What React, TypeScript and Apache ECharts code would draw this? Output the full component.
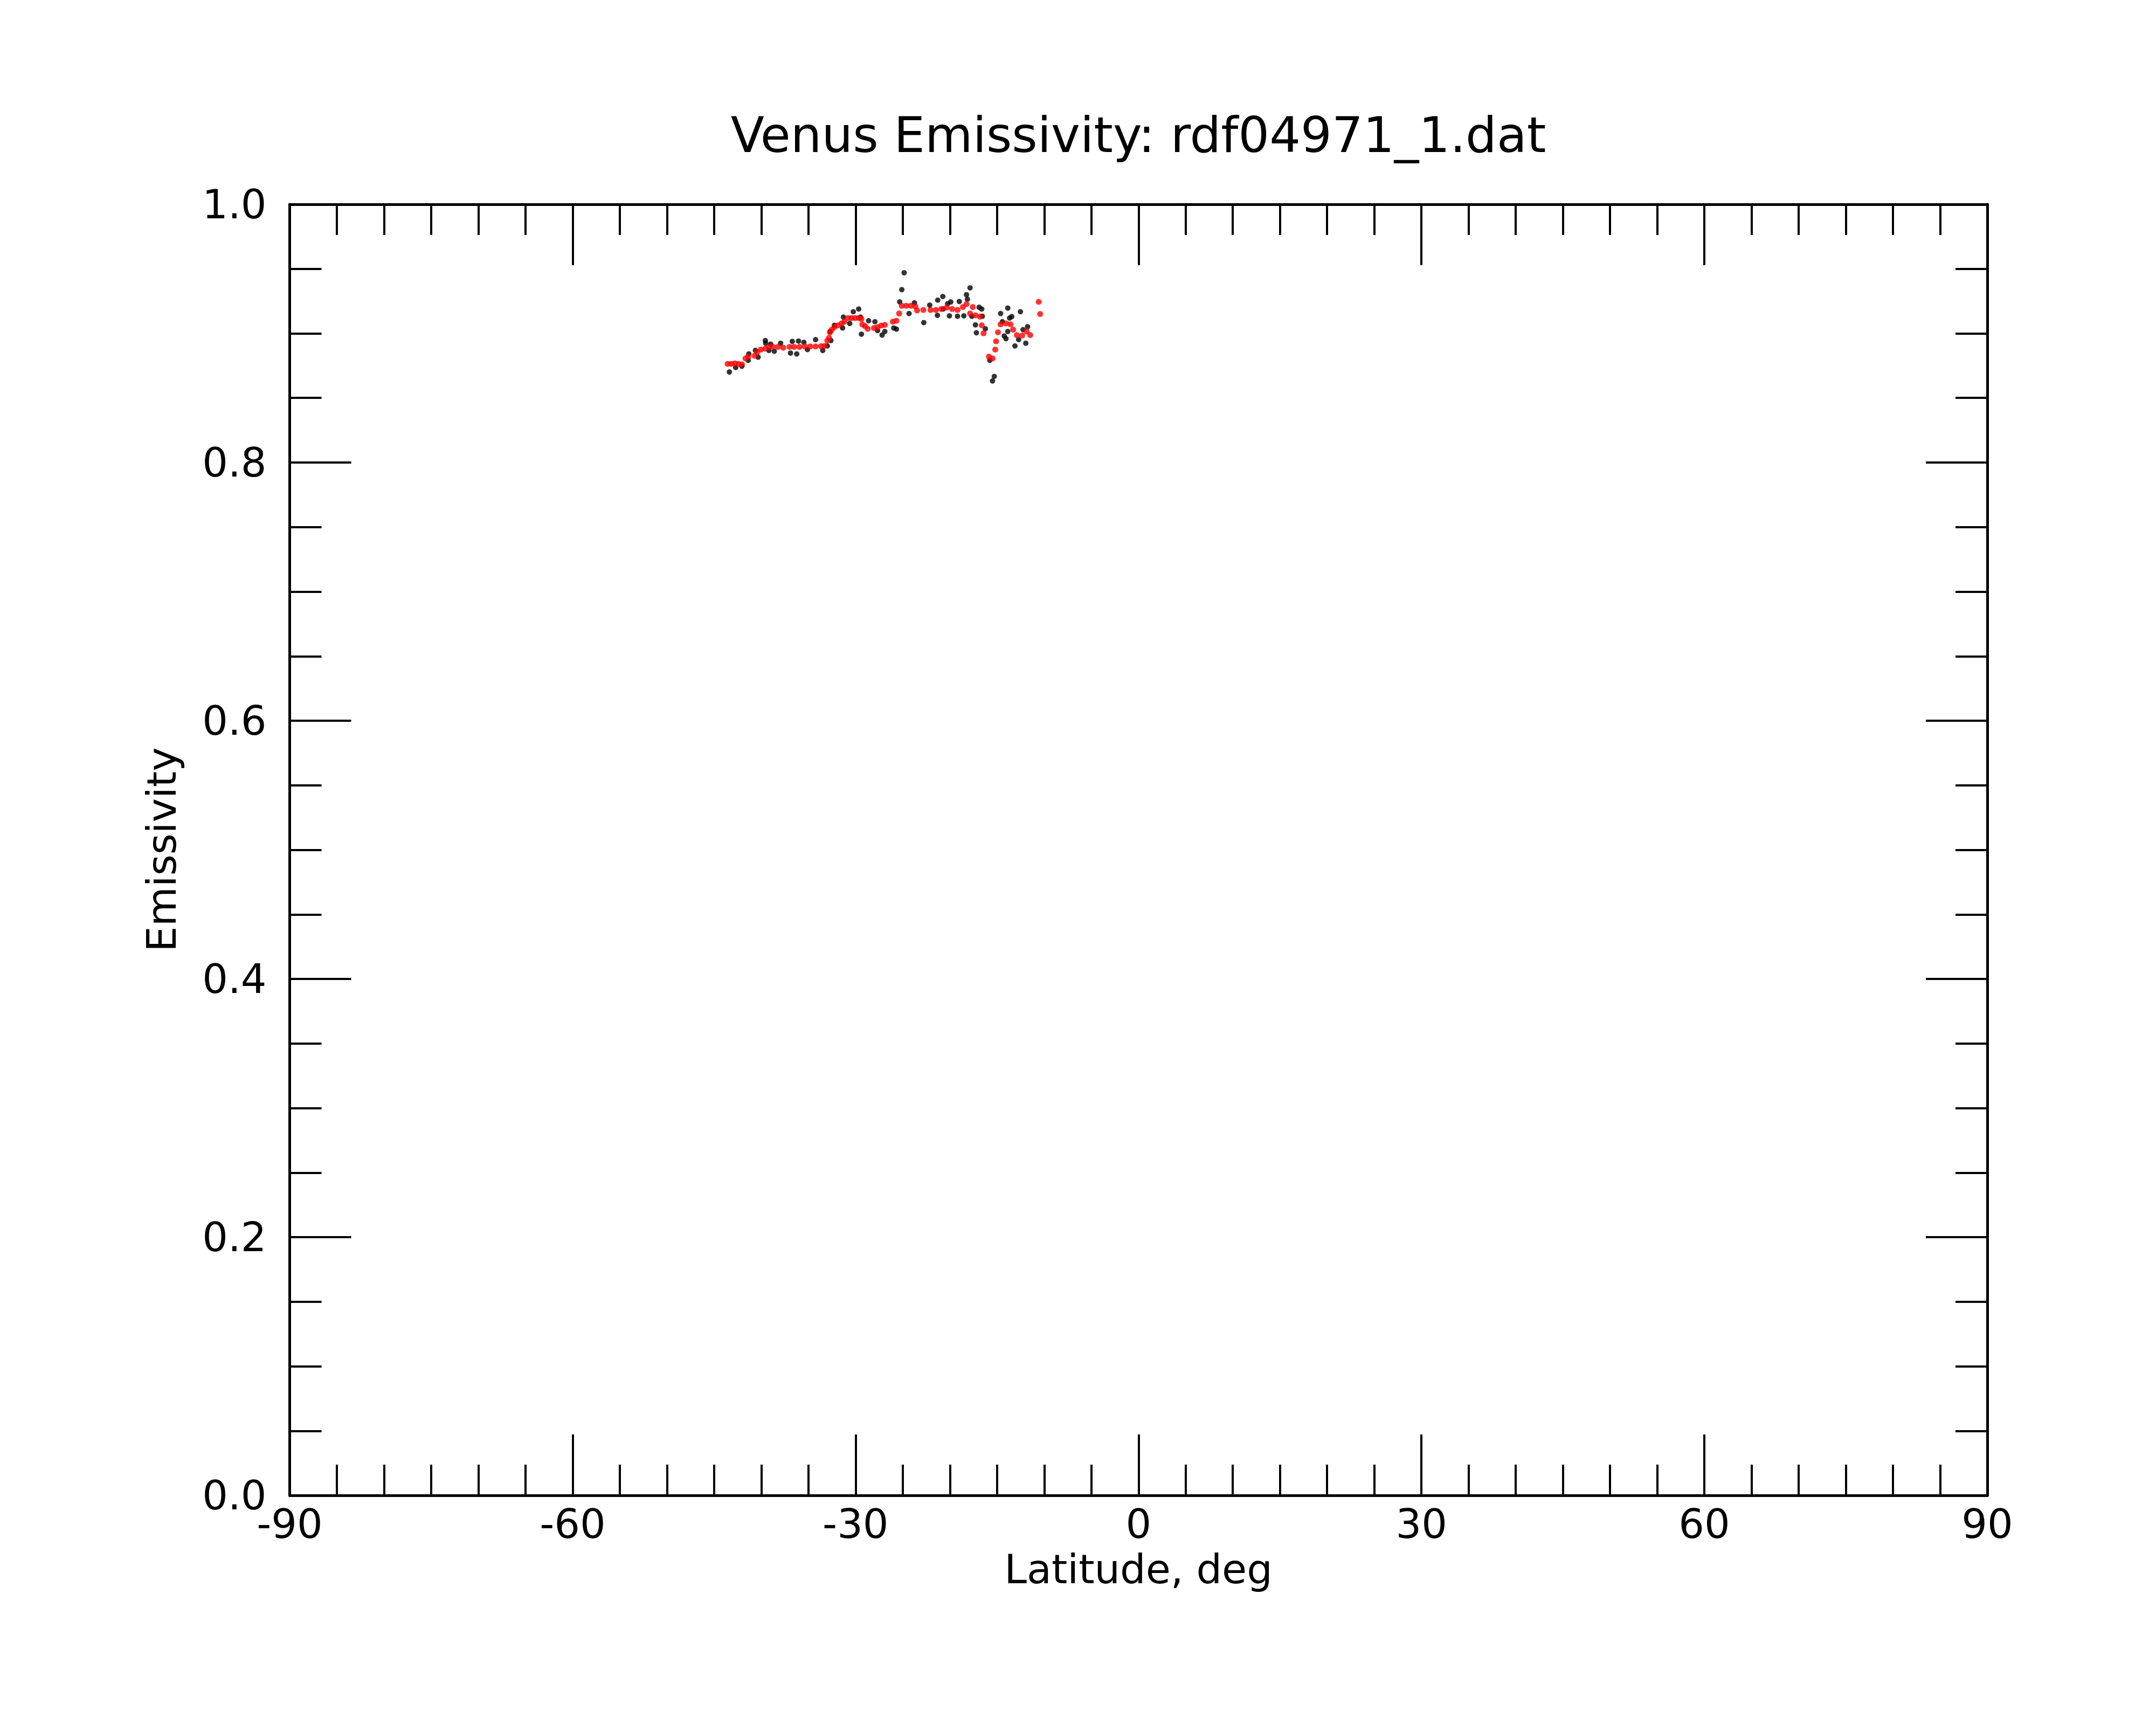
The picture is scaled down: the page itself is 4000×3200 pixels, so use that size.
import React, { useEffect, useRef } from "react";
import * as echarts from "echarts";

const TITLE = "Venus Emissivity: rdf04971_1.dat";
const X_NAME = "Latitude, deg";
const Y_NAME = "Emissivity";

// Raw emissivity samples (black dots): [latitude, emissivity]
const rawLat = [
  -43.38, -42.71, -42.05, -41.38, -41.32, -40.62, -40.33, -39.57, -39.53, -39.19,
  -39.0, -38.62, -37.95, -36.9, -36.71, -36.24, -36.05, -35.48, -35.1, -34.24,
  -33.48, -33.0, -32.62, -32.71, -32.24, -31.38, -31.29, -30.62, -30.24, -29.67,
  -29.48, -29.38, -28.62, -27.95, -27.67, -27.19, -26.9, -25.95, -25.67, -25.32,
  -25.1, -24.85, -24.33, -23.76, -22.77, -22.14, -21.29, -21.32, -20.75, -20.71,
  -20.24, -20.05, -19.91, -19.19, -19.0, -18.52, -18.24, -18.14, -17.86, -17.67,
  -17.29, -17.19, -16.9, -16.62, -16.56, -16.24, -15.76, -15.48, -15.29, -14.62,
  -14.43, -14.24, -14.05, -13.86, -13.86, -13.67, -13.44, -13.1, -12.71, -12.52,
  -12.24, -11.95, -11.76,
];
const rawEmis = [
  0.8701, 0.8736, 0.8746, 0.8792, 0.8841, 0.8868, 0.8816, 0.8945, 0.8924, 0.8868,
  0.8917, 0.8862, 0.8924, 0.8848, 0.8938, 0.8841, 0.8941, 0.8931, 0.8875, 0.8952,
  0.8868, 0.8903, 0.8945, 0.9015, 0.9063, 0.9042, 0.9126, 0.9077, 0.9168, 0.9189,
  0.9126, 0.8994, 0.9098, 0.9091, 0.9022, 0.8987, 0.9015, 0.9042, 0.9033, 0.9244,
  0.9339, 0.947, 0.9154, 0.9237, 0.9084, 0.9219, 0.9258, 0.914, 0.9286, 0.9189,
  0.923, 0.9136, 0.9244, 0.9133, 0.9247, 0.9136, 0.93, 0.9265, 0.9353, 0.9133,
  0.9066, 0.9005, 0.9203, 0.9189, 0.9133, 0.9036, 0.8792, 0.8632, 0.8667, 0.9154,
  0.9091, 0.898, 0.8959, 0.9196, 0.9015, 0.9119, 0.913, 0.8903, 0.8952, 0.9168,
  0.9029, 0.8924, 0.9052,
];

// Smoothed emissivity (red dots): [latitude, emissivity]
const smoothLat = [
  -43.57, -43.19, -42.81, -42.43, -42.05, -41.67, -41.38, -40.71, -40.43, -40.05,
  -39.57, -39.19, -38.81, -38.24, -37.67, -37.0, -36.52, -35.95, -35.38, -34.81,
  -34.24, -33.67, -33.29, -33.0, -32.81, -32.71, -32.52, -32.24, -31.86, -31.48,
  -31.19, -30.81, -30.43, -30.05, -29.67, -29.38, -29.29, -29.0, -28.71, -28.05,
  -27.67, -27.29, -26.9, -26.05, -25.67, -25.38, -25.1, -24.62, -24.14, -23.67,
  -23.48, -22.81, -22.05, -21.48, -20.9, -20.33, -19.76, -19.19, -18.62, -18.24,
  -17.86, -17.57, -17.29, -16.81, -16.62, -16.43, -15.86, -15.48, -15.19, -15.1,
  -14.9, -14.62, -14.05, -13.57, -13.29, -12.9, -12.33, -11.86, -11.48, -10.58,
  -10.43,
];
const smoothEmis = [
  0.8764, 0.8764, 0.8768, 0.8764, 0.876, 0.8806, 0.882, 0.8827, 0.8855, 0.8875,
  0.8882, 0.8896, 0.8899, 0.8896, 0.8889, 0.8896, 0.8896, 0.8896, 0.8899, 0.8899,
  0.8899, 0.8901, 0.8903, 0.8945, 0.8966, 0.9008, 0.9029, 0.9049, 0.9063, 0.9077,
  0.9091, 0.9119, 0.9119, 0.9119, 0.9119, 0.9112, 0.907, 0.9056, 0.9036, 0.9042,
  0.9049, 0.9061, 0.9066, 0.9091, 0.9098, 0.9154, 0.9214, 0.9214, 0.9214, 0.921,
  0.9178, 0.9182, 0.9182, 0.9182, 0.9189, 0.92, 0.9189, 0.9182, 0.9205, 0.9228,
  0.9154, 0.9205, 0.914, 0.913, 0.9063, 0.9001, 0.882, 0.8806, 0.8875, 0.8938,
  0.9008, 0.907, 0.9077, 0.907, 0.9029, 0.8987, 0.8983, 0.9015, 0.8987, 0.9244,
  0.915,
];

const X_TICKS = [-90, -60, -30, 0, 30, 60, 90];
const Y_TICKS = [0.0, 0.2, 0.4, 0.6, 0.8, 1.0];

const FONT = "DejaVu Sans";

export default function App() {
  const ref = useRef<HTMLDivElement>(null);

  useEffect(() => {
    document.body.style.margin = "0";
    if (!ref.current) return;
    const chart = echarts.init(ref.current, undefined, { renderer: "svg" });

    const gridLeft = 537.5;
    const gridRight = 4000 - 3687;
    const gridTop = 379;
    const gridBottom = 3200 - 2774;

    const lineStyle = { color: "#000", width: 5 };
    const tickStyle = { color: "#000", width: 4 };

    const xBase = {
      type: "value" as const,
      min: X_TICKS[0],
      max: X_TICKS[X_TICKS.length - 1],
      interval: 30,
      splitLine: { show: false },
      axisLine: { show: true, onZero: false, lineStyle },
      axisTick: { show: true, inside: true, length: 113, lineStyle: tickStyle },
      minorTick: { show: true, splitNumber: 6, length: 57, lineStyle: tickStyle },
      minorSplitLine: { show: false },
    };
    const yBase = {
      type: "value" as const,
      min: Y_TICKS[0],
      max: Y_TICKS[Y_TICKS.length - 1],
      interval: 0.2,
      splitLine: { show: false },
      axisLine: { show: true, onZero: false, lineStyle },
      axisTick: { show: true, inside: true, length: 114, lineStyle: tickStyle },
      minorTick: { show: true, splitNumber: 4, length: 59, lineStyle: tickStyle },
      minorSplitLine: { show: false },
    };

    const rawData = rawLat.map((v, i) => [v, rawEmis[i]]);
    const smoothData = smoothLat.map((v, i) => [v, smoothEmis[i]]);

    chart.setOption({
      animation: false,
      backgroundColor: "#fff",
      textStyle: { fontFamily: FONT },
      grid: { left: gridLeft, right: gridRight, top: gridTop, bottom: gridBottom, containLabel: false },
      xAxis: [
        {
          ...xBase,
          position: "bottom",
          axisLabel: {
            show: true,
            color: "#000",
            fontSize: 75,
            lineHeight: 70,
            fontFamily: FONT,
            margin: 18,
            formatter: (v: number) => String(v),
          },
        },
        { ...xBase, position: "top", axisLabel: { show: false } },
      ],
      yAxis: [
        {
          ...yBase,
          position: "left",
          axisLabel: {
            show: true,
            color: "#000",
            fontSize: 75,
            fontFamily: FONT,
            margin: 43,
            formatter: (v: number) => v.toFixed(1),
          },
        },
        { ...yBase, position: "right", axisLabel: { show: false } },
      ],
      graphic: [
        {
          type: "text",
          x: 2112,
          y: 250,
          style: {
            text: TITLE,
            fontSize: 91,
            fontFamily: FONT,
            fill: "#000",
            align: "center",
            verticalAlign: "middle",
          },
        },
        {
          type: "text",
          x: 2112,
          y: 2911,
          style: {
            text: X_NAME,
            fontSize: 75,
            lineHeight: 70,
            fontFamily: FONT,
            fill: "#000",
            align: "center",
            verticalAlign: "middle",
          },
        },
        {
          type: "text",
          x: 300,
          y: 1576,
          rotation: Math.PI / 2,
          style: {
            text: Y_NAME,
            fontSize: 75,
            fontFamily: FONT,
            fill: "#000",
            align: "center",
            verticalAlign: "middle",
          },
        },
      ],
      series: [
        {
          name: "raw",
          type: "scatter",
          xAxisIndex: 0,
          yAxisIndex: 0,
          data: rawData,
          symbol: "circle",
          symbolSize: 10,
          itemStyle: { color: "#000" },
          z: 2,
        },
        {
          name: "smoothed",
          type: "scatter",
          xAxisIndex: 0,
          yAxisIndex: 0,
          data: smoothData,
          symbol: "circle",
          symbolSize: 11,
          itemStyle: { color: "#ff0000" },
          z: 3,
        },
      ],
    });

    return () => chart.dispose();
  }, []);

  return <div ref={ref} style={{ width: 4000, height: 3200 }} />;
}
